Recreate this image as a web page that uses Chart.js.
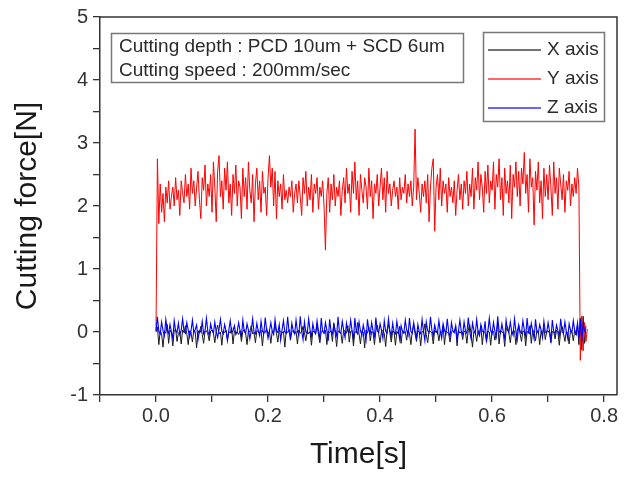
<!DOCTYPE html>
<html>
<head>
<meta charset="utf-8">
<script src="https://cdn.jsdelivr.net/npm/chart.js@4/dist/chart.umd.min.js"></script>
<style>
html,body{margin:0;padding:0;background:#fff;}
canvas{display:block;}
</style>
</head>
<body>
<canvas id="c" width="632" height="477"></canvas>
<script>
// ---- Data ----
const sampleStart = 0.0;      // s
const sampleStep = 0.0025;    // s, sampling interval of the traces

const yAxisForce = [
  0.02, 2.75, 1.72, 2.35, 1.9, 2.2, 1.75, 2.3, 2.05, 2.4, 1.95, 2.15, 2.3, 2.0, 2.45, 2.1, 2.25, 1.85, 2.4, 2.2,
  2.05, 2.5, 2.15, 2.35, 1.95, 2.6, 2.2, 2.4, 2.0, 2.3, 2.55, 2.1, 1.8, 2.45, 2.25, 2.65, 2.0, 2.35, 2.15, 2.5,
  1.9, 2.7, 2.3, 1.75, 2.55, 2.8, 2.15, 2.4, 1.95, 2.6, 2.25, 2.7, 2.05, 2.35, 1.85, 2.5, 2.2, 2.65, 2.0, 2.4,
  2.3, 1.8, 2.6, 2.15, 2.45, 1.95, 2.7, 2.25, 2.05, 2.5, 1.75, 2.35, 2.6, 2.1, 2.4, 1.9, 2.55, 2.2, 2.3, 1.85,
  2.45, 2.8, 2.3, 2.6, 2.0, 2.55, 1.8, 2.4, 2.15, 2.35, 1.95, 2.5, 2.1, 2.25, 2.05, 2.3, 2.15, 2.4, 1.9, 2.2,
  2.35, 2.05, 2.4, 2.15, 1.85, 2.45, 2.2, 2.55, 2.0, 2.3, 2.1, 2.5, 1.9, 2.35, 2.2, 2.45, 1.95, 2.3, 2.15, 2.4,
  2.0, 1.3, 2.2, 2.45, 1.9, 2.35, 2.1, 2.5, 2.0, 2.3, 2.15, 2.4, 1.85, 2.25, 2.45, 2.05, 2.6, 2.2, 2.35, 1.9,
  2.55, 2.2, 2.7, 2.1, 2.4, 1.85, 2.5, 2.25, 2.05, 2.45, 2.3, 1.95, 2.6, 2.15, 2.4, 1.8, 2.35, 2.2, 2.5, 2.0,
  2.3, 2.6, 2.1, 2.45, 1.9, 2.55, 2.2, 2.35, 2.0, 2.25, 2.4, 2.15, 2.3, 1.95, 2.45, 2.1, 2.3, 2.2, 2.5, 2.05,
  2.35, 2.15, 2.4, 2.0, 2.3, 3.22, 2.1, 2.45, 2.2, 1.9, 2.35, 2.15, 2.4, 2.05, 2.5, 1.75, 2.3, 2.6, 2.75, 1.6,
  2.3, 2.5, 2.1, 2.6, 2.0, 2.4, 2.2, 2.35, 1.9, 2.45, 2.15, 2.3, 2.05, 2.4, 1.85, 2.25, 2.5, 2.1, 2.35, 1.95,
  2.4, 2.2, 2.55, 2.0, 2.35, 2.15, 2.6, 1.95, 2.45, 2.25, 2.7, 2.1, 2.5, 2.3, 1.9, 2.55, 2.2, 2.65, 2.05, 2.4,
  2.25, 2.7, 1.95, 2.5, 2.3, 2.75, 2.1, 2.45, 1.85, 2.6, 2.2, 2.4, 2.05, 2.65, 1.8, 2.5, 2.3, 2.7, 2.15, 2.55,
  2.0, 2.6, 2.35, 2.85, 2.2, 2.5, 1.9, 2.75, 2.3, 2.45, 1.7, 2.55, 2.25, 2.7, 2.05, 2.4, 1.8, 2.6, 2.15, 2.5,
  2.1, 2.65, 2.3, 1.85, 2.7, 2.2, 2.45, 1.95, 2.6, 2.35, 2.1, 2.5, 1.9, 2.4, 2.25, 2.55, 2.0, 2.35, 2.15, 2.45,
  2.2, 2.6, 2.3, -0.45, 0.25, -0.3, 0.15, -0.15, 0.05
];

const xAxisForce = [
  0.0, 0.08, -0.2, 0.02, -0.03, -0.24, 0.01, -0.02, 0.12, -0.18, 0.03, -0.01, -0.22, 0.02, 0.05, -0.15, -0.02, 0.01, -0.19, 0.03,
  -0.01, 0.1, -0.03, -0.2, 0.02, -0.01, -0.16, 0.03, 0.0, -0.25, 0.02, -0.02, 0.09, -0.04, -0.18, 0.01, 0.02, -0.03, -0.14, 0.01,
  0.03, -0.02, -0.17, 0.01, 0.11, -0.03, 0.0, -0.21, 0.02, -0.01, 0.03, -0.12, 0.01, -0.02, 0.07, -0.19, 0.02, -0.01, 0.0, -0.04,
  0.02, -0.15, 0.01, 0.04, -0.02, -0.2, 0.02, 0.0, 0.1, -0.03, -0.01, -0.17, 0.02, 0.01, -0.02, 0.03, -0.22, 0.01, -0.01, 0.06,
  -0.03, 0.01, -0.18, 0.02, -0.01, 0.13, -0.02, -0.16, 0.03, 0.0, -0.02, 0.01, -0.24, 0.02, -0.01, 0.04, -0.13, 0.01, 0.02, -0.03,
  0.01, -0.19, 0.03, -0.02, 0.0, 0.09, -0.01, -0.14, 0.02, -0.03, 0.01, -0.21, 0.02, 0.0, -0.02, 0.12, -0.04, -0.17, 0.01, 0.02,
  -0.02, 0.03, -0.2, 0.01, -0.01, 0.02, -0.15, 0.14, -0.03, -0.23, 0.02, 0.0, -0.01, -0.18, 0.03, 0.01, -0.02, 0.1, -0.16, 0.01,
  0.02, -0.22, 0.01, -0.01, 0.15, -0.03, -0.19, 0.02, 0.0, -0.25, 0.03, -0.02, 0.08, -0.14, 0.01, -0.01, -0.2, 0.02, 0.11, -0.03,
  -0.17, 0.01, 0.02, -0.02, -0.23, 0.03, 0.12, -0.01, -0.16, 0.02, 0.0, -0.21, 0.01, -0.03, 0.09, -0.18, 0.02, -0.01, 0.01, -0.13,
  0.03, -0.02, -0.2, 0.01, 0.1, -0.03, -0.15, 0.02, 0.0, -0.22, 0.01, -0.01, 0.13, -0.04, -0.17, 0.02, 0.01, -0.02, -0.19, 0.03,
  -0.01, 0.02, -0.14, 0.01, -0.02, 0.11, -0.2, 0.02, 0.0, -0.03, -0.16, 0.01, 0.02, -0.01, 0.08, -0.22, 0.03, -0.02, 0.01, -0.12,
  0.02, -0.01, -0.18, 0.03, 0.12, -0.02, -0.24, 0.01, 0.0, -0.15, 0.02, -0.03, 0.1, -0.2, 0.01, -0.01, -0.16, 0.02, 0.0, -0.21,
  0.03, 0.01, -0.13, -0.02, 0.14, -0.19, 0.02, 0.0, -0.01, -0.23, 0.03, 0.09, -0.02, -0.17, 0.01, -0.01, 0.02, -0.2, 0.01, 0.11,
  -0.03, -0.15, 0.02, 0.0, -0.22, 0.01, -0.02, 0.1, -0.18, 0.03, -0.01, -0.14, 0.02, 0.01, -0.2, 0.02, -0.03, 0.07, -0.12, 0.01,
  0.02, -0.02, -0.17, 0.01, 0.0, -0.11, 0.03, -0.01, -0.21, 0.02, 0.09, -0.03, -0.15, 0.01, -0.02, -0.19, 0.02, 0.0, -0.14, 0.03,
  -0.05, 0.12, -0.2, 0.22, -0.28, 0.25, -0.18, 0.1
];

const zAxisForce = [
  0.02, 0.24, 0.01, -0.03, 0.16, 0.02, -0.06, 0.2, 0.03, -0.02, 0.12, 0.0, -0.1, 0.18, 0.02, -0.01, 0.14, -0.04, 0.03, 0.21,
  0.01, -0.02, 0.15, 0.03, -0.08, 0.02, 0.19, -0.01, 0.04, 0.11, -0.12, 0.02, 0.0, 0.17, -0.03, 0.02, 0.22, 0.01, -0.05, 0.13,
  0.03, -0.02, 0.16, 0.0, -0.09, 0.04, 0.2, 0.01, -0.03, 0.12, 0.02, -0.14, 0.03, 0.18, -0.01, 0.02, 0.1, -0.04, 0.01, 0.15,
  0.02, -0.07, 0.19, 0.01, -0.02, 0.13, 0.03, -0.11, 0.02, 0.21, 0.0, -0.03, 0.14, 0.02, -0.06, 0.17, 0.01, -0.02, 0.23, 0.03,
  -0.1, 0.02, 0.15, 0.01, -0.04, 0.2, 0.02, -0.01, 0.12, -0.13, 0.03, 0.18, 0.0, -0.02, 0.24, 0.01, -0.08, 0.14, 0.02, -0.03,
  0.19, 0.01, -0.05, 0.25, 0.02, -0.12, 0.16, 0.0, -0.02, 0.21, 0.03, -0.07, 0.13, 0.01, -0.03, 0.18, 0.02, -0.1, 0.22, 0.01,
  -0.02, 0.15, 0.03, -0.14, 0.2, 0.01, -0.03, 0.12, 0.02, -0.06, 0.24, 0.0, -0.02, 0.17, 0.03, -0.09, 0.14, 0.01, -0.01, 0.19,
  0.02, -0.11, 0.22, 0.01, -0.03, 0.16, 0.02, -0.05, 0.11, 0.0, -0.13, 0.2, 0.03, -0.02, 0.15, 0.01, -0.07, 0.23, 0.02, -0.01,
  0.13, 0.03, -0.1, 0.18, 0.01, -0.02, 0.21, 0.02, -0.06, 0.14, 0.0, -0.03, 0.17, 0.02, -0.12, 0.1, 0.01, -0.02, 0.19, 0.03,
  -0.05, 0.22, 0.01, -0.02, 0.15, 0.02, -0.09, 0.12, 0.0, -0.03, 0.2, 0.01, -0.14, 0.16, 0.02, -0.01, 0.24, 0.03, -0.06, 0.11,
  0.02, -0.02, 0.18, 0.01, -0.1, 0.13, 0.03, -0.03, 0.21, 0.0, -0.07, 0.15, 0.02, -0.01, 0.1, -0.12, 0.02, 0.19, 0.01, -0.04,
  0.16, 0.02, -0.02, 0.23, 0.01, -0.11, 0.14, 0.03, -0.03, 0.2, 0.0, -0.06, 0.12, 0.02, -0.01, 0.17, -0.13, 0.01, 0.22, 0.02,
  -0.03, 0.15, 0.01, -0.08, 0.25, 0.02, -0.02, 0.13, 0.0, -0.1, 0.19, 0.03, -0.01, 0.16, 0.01, -0.05, 0.21, 0.02, -0.12, 0.11,
  0.01, -0.02, 0.18, 0.03, -0.07, 0.22, 0.0, -0.03, 0.14, 0.02, -0.11, 0.2, 0.01, -0.02, 0.12, 0.03, -0.09, 0.17, 0.0, -0.01,
  0.15, 0.02, -0.13, 0.19, 0.01, -0.03, 0.11, 0.02, -0.06, 0.21, 0.0, -0.02, 0.16, 0.01, -0.1, 0.13, 0.03, -0.01, 0.18, 0.02,
  -0.04, 0.14, -0.1, 0.2, -0.15, 0.12, 0.03, -0.02
];

const seriesNames = ['X axis', 'Y axis', 'Z axis'];
const xMajorTicks = [0.0, 0.2, 0.4, 0.6, 0.8];
const xMinorTicks = [-0.1, 0.1, 0.3, 0.5, 0.7];
const yMajorTicks = [-1, 0, 1, 2, 3, 4, 5];
const yMinorTicks = [-0.5, 0.5, 1.5, 2.5, 3.5, 4.5];
const xRange = [-0.1, 0.823];
const yRange = [-1, 5];
const xTitle = 'Time[s]';
const yTitle = 'Cutting force[N]';
const noteLines = ['Cutting depth : PCD 10um + SCD 6um', 'Cutting speed : 200mm/sec'];

// ---- Build ----
function toPoints(arr) {
  return arr.map((v, i) => ({x: sampleStart + i * sampleStep, y: v}));
}
const FONT = '"Liberation Sans", Arial, Helvetica, sans-serif';
const colors = ['#1a1a1a', '#ff0000', '#0000ff'];
const legendColors = ['#444444', '#ff3333', '#3333ff'];

function isIn(list, v) { return list.some(t => Math.abs(t - v) < 1e-6); }

const framePlugin = {
  id: 'frame',
  beforeDraw(chart) {
    const ctx = chart.ctx;
    ctx.save();
    ctx.fillStyle = '#ffffff';
    ctx.fillRect(0, 0, chart.width, chart.height);
    ctx.restore();
  },
  afterDraw(chart) {
    const ctx = chart.ctx;
    const a = chart.chartArea;
    ctx.save();
    ctx.strokeStyle = '#333';
    ctx.lineWidth = 1.5;
    ctx.beginPath();
    ctx.moveTo(a.left, a.top);
    ctx.lineTo(a.right, a.top);
    ctx.lineTo(a.right, a.bottom);
    ctx.stroke();

    // note box
    ctx.strokeStyle = '#777';
    ctx.lineWidth = 1.5;
    ctx.strokeRect(111.5, 33.5, 352, 49);
    ctx.fillStyle = '#2a2a2a';
    ctx.font = '19px ' + FONT;
    ctx.textBaseline = 'middle';
    ctx.textAlign = 'left';
    ctx.fillText(noteLines[0], 119, 47);
    ctx.fillText(noteLines[1], 119, 71);

    // legend box
    ctx.strokeStyle = '#777';
    ctx.lineWidth = 1.5;
    ctx.strokeRect(483.5, 32.5, 121, 89);
    const ys = [50, 79, 108];
    for (let i = 0; i < 3; i++) {
      ctx.beginPath();
      ctx.strokeStyle = legendColors[i];
      ctx.lineWidth = 1.3;
      ctx.moveTo(488, ys[i]);
      ctx.lineTo(541, ys[i]);
      ctx.stroke();
      ctx.fillStyle = '#2a2a2a';
      ctx.fillText(seriesNames[i], 547, ys[i]);
    }
    ctx.restore();
  }
};

const tickFont = {family: FONT, size: 20};

new Chart(document.getElementById('c'), {
  type: 'line',
  data: {
    datasets: [
      {label: seriesNames[0], data: toPoints(xAxisForce), borderColor: colors[0], borderWidth: 1, pointRadius: 0, order: 3},
      {label: seriesNames[1], data: toPoints(yAxisForce), borderColor: colors[1], borderWidth: 1, pointRadius: 0, order: 2},
      {label: seriesNames[2], data: toPoints(zAxisForce), borderColor: colors[2], borderWidth: 1.1, pointRadius: 0, order: 1}
    ]
  },
  options: {
    responsive: false,
    animation: false,
    devicePixelRatio: 1,
    events: [],
    layout: {padding: {top: 15, right: 15, left: 0, bottom: 0}},
    plugins: {legend: {display: false}, tooltip: {enabled: false}},
    elements: {line: {tension: 0}},
    scales: {
      x: {
        type: 'linear',
        min: xRange[0], max: xRange[1],
        afterBuildTicks(scale) {
          scale.ticks = xMajorTicks.concat(xMinorTicks).sort((a, b) => a - b).map(v => ({value: v}));
        },
        afterFit(scale) { scale.height = 82; },
        ticks: {
          autoSkip: false, maxRotation: 0, minRotation: 0,
          color: '#333', font: tickFont, padding: 2,
          callback: (v) => isIn(xMajorTicks, v) ? Number(v).toFixed(1) : ''
        },
        grid: {display: true, drawOnChartArea: false, drawTicks: true, tickLength: 7, color: '#333', lineWidth: 1.3},
        border: {display: true, color: '#333', width: 1.5},
        title: {display: true, text: xTitle, color: '#1a1a1a', font: {family: FONT, size: 30}, padding: {top: 0, bottom: 4}}
      },
      y: {
        type: 'linear',
        min: yRange[0], max: yRange[1],
        afterBuildTicks(scale) {
          scale.ticks = yMajorTicks.concat(yMinorTicks).sort((a, b) => a - b).map(v => ({value: v}));
        },
        afterFit(scale) { scale.width = 100; },
        ticks: {
          autoSkip: false,
          color: '#333', font: tickFont, padding: 5,
          callback: (v) => isIn(yMajorTicks, v) ? String(Math.round(v)) : ''
        },
        grid: {display: true, drawOnChartArea: false, drawTicks: true, tickLength: 7, color: '#333', lineWidth: 1.3},
        border: {display: true, color: '#333', width: 1.5},
        title: {display: true, text: yTitle, color: '#1a1a1a', font: {family: FONT, size: 30}, padding: {top: 10, bottom: 0}}
      }
    }
  },
  plugins: [framePlugin]
});
</script>
</body>
</html>
